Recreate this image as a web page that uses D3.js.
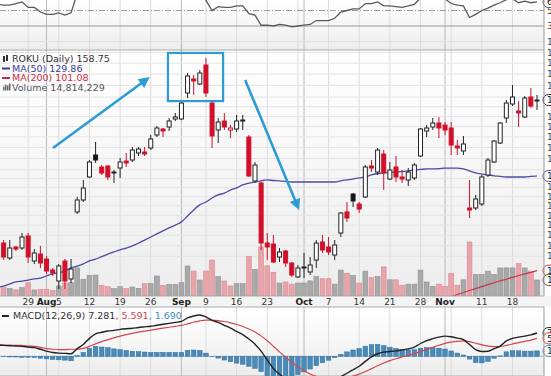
<!DOCTYPE html>
<html>
<head>
<meta charset="utf-8">
<script src="https://cdn.jsdelivr.net/npm/d3@7"></script>
<style>
  body { margin: 0; background: #fff; overflow: hidden; }
  svg { display: block; font-family: "DejaVu Sans", Verdana, sans-serif; }
</style>
</head>
<body>
<div id="chart"></div>
<script>
// trading calendar (Sep 2 = Labor Day)
const holidays = ["2019-09-02"];
const fmt = d3.timeFormat("%Y-%m-%d");
const dates = d3.timeDay.range(new Date(2019, 6, 22), new Date(2019, 10, 23))
  .filter(d => d.getDay() > 0 && d.getDay() < 6 && !holidays.includes(fmt(d)))
  .map(fmt);

const open = [106.75,108.74,104.51,107.60,107.32,110.78,103.69,105.63,104.24,101.25,
  98.35,103.69,98.87,118.05,121.85,129.50,137.26,132.97,133.32,130.87,
  132.62,135.09,135.45,137.99,138.35,139.82,144.71,147.03,147.81,150.97,
  150.97,161.72,167.83,165.62,174.16,157.49,146.64,150.17,146.64,147.03,
  150.17,143.95,128.13,127.46,108.74,108.46,104.79,106.47,103.14,99.40,
  101.79,100.72,103.96,109.03,107.60,105.35,111.66,118.05,123.81,120.57,
  122.83,133.32,131.22,137.62,128.81,132.97,129.50,128.47,129.16,136.90,
  146.25,147.81,149.38,148.59,147.42,140.56,138.72,119.30,119.30,120.57,
  130.18,134.74,141.68,151.38,157.08,154.20,151.78,160.02,158.33];
const high = [108.17,109.61,109.61,107.88,111.66,111.66,107.03,107.88,105.07,101.79,
  102.87,104.24,104.24,122.83,128.47,135.45,142.06,133.67,133.67,131.91,
  136.17,137.99,140.19,140.19,140.19,144.71,148.20,147.42,151.38,153.39,
  157.91,170.51,169.61,171.87,177.42,158.75,151.38,153.39,148.59,152.58,
  152.58,144.71,134.74,127.80,111.66,111.07,107.31,106.75,103.41,102.60,
  105.91,104.79,109.61,111.07,110.48,109.61,118.05,121.21,124.13,121.21,
  133.67,135.45,139.82,139.08,134.74,136.90,131.91,132.62,134.38,147.42,
  148.59,151.38,151.78,149.78,149.78,142.81,144.33,128.47,123.48,130.18,
  136.17,142.81,149.78,158.75,165.18,158.33,160.44,163.88,160.87];
const low = [104.51,103.96,103.96,106.47,106.75,103.14,102.87,101.79,100.19,99.66,
  96.28,96.28,97.83,117.42,121.21,129.16,134.38,130.18,128.47,127.46,
  129.16,132.97,134.74,136.90,136.90,139.08,143.95,143.95,146.25,150.17,
  150.57,159.59,160.87,165.18,160.02,139.82,141.68,146.64,143.57,145.87,
  146.64,129.50,127.46,106.75,103.96,103.14,103.41,102.06,99.40,99.13,
  99.13,99.92,101.79,105.91,105.35,103.96,110.48,114.96,119.62,117.73,
  122.51,131.22,130.18,125.12,128.47,127.80,127.46,126.45,128.47,136.54,
  143.95,146.64,143.57,144.71,137.26,137.26,137.26,116.18,118.67,119.93,
  129.50,134.38,141.31,149.38,156.25,147.81,151.38,155.43,154.61];
const close = [107.32,104.79,107.32,107.03,110.48,104.79,105.91,103.14,100.98,100.45,
  102.33,98.35,101.52,121.85,125.78,134.74,135.45,130.87,129.50,131.22,
  134.74,134.38,139.08,139.45,137.62,143.19,147.42,146.25,150.17,151.78,
  157.49,169.16,166.94,170.51,161.72,144.33,149.78,147.81,147.42,150.17,
  150.57,129.84,133.67,108.74,107.60,103.41,106.19,103.14,99.92,101.79,
  102.06,102.60,108.74,106.75,106.19,108.17,117.73,116.18,121.53,118.99,
  132.97,132.62,139.08,130.87,131.91,129.50,128.81,131.22,133.67,147.03,
  147.42,149.38,147.42,146.64,140.94,139.82,141.31,118.67,122.18,129.50,
  135.45,142.43,149.38,157.49,160.02,153.39,159.59,156.25,158.75];
// volume, millions of shares
const volume = [7,7.7,6.8,5.6,7.7,12.3,5.6,6.2,6.2,5.3,
  9.3,12,12.3,26,15.5,19.2,19.4,9.9,8.6,6.8,
  8.6,6.8,8.3,7.1,11.4,11.4,18.5,9.9,10.8,10.8,
  12.3,27.8,23.1,14.8,23.1,33.3,17.9,13.9,9.3,11.4,
  11.4,36.4,24.7,45.4,28,22,12,13,11,12,
  12,14,18,16,16,11,24,21,19,12,
  23,17,18,27,15,15,10,11,11,24,
  13,9,11,9,21,10,15,50,20,20,
  23,20,26,26,26,30,26,23,14.81];
const ma50 = [96.8,97.0,97.6,98.1,98.3,98.6,98.9,99.1,99.7,100.2,
  100.5,101.0,101.8,102.3,102.9,103.7,104.2,104.9,105.6,106.2,
  106.8,107.3,107.9,108.7,109.6,110.5,111.4,112.3,113.2,114.0,
  115.0,116.8,118.7,120.3,121.2,122.5,123.5,124.1,125.1,125.8,
  126.8,127.4,127.8,128.2,128.5,128.3,128.2,128.0,127.8,127.8,
  127.8,127.8,127.8,127.8,127.8,127.8,128.2,128.5,128.8,129.2,
  129.5,130.2,130.7,130.9,131.1,131.2,131.4,131.6,131.9,132.1,
  132.3,132.3,132.4,132.6,132.6,132.6,132.3,131.6,130.9,130.5,
  130.2,129.9,129.7,129.5,129.5,129.5,129.5,129.7,129.86];
// MA(200) only visible at the end of the window
const ma200Start = 72;
const ma200 = [93.5,94.0,94.4,94.9,95.4,95.9,96.4,96.9,97.4,97.9,98.4,98.8,99.3,99.8,100.2,100.6,101.08];
const rsi = [58,57,57,59,61,54,54,48,45,45,
  47,44,47,72,76,82,80,76,73,74,
  77,76,79,79,76,80,83,81,84,85,
  88,91,88,90,63,50,55,54,54,56,
  56,46,44,31,31,30,32,31,29,30,
  31,32,37,37,37,40,48,50,52,52,
  59,59,61,56,56,55,54,56,58,66,
  67,68,66,65,59,57,56,41,45,50,
  53,57,60,64,65,60,62,60,61];
const macd = [3.5,3.4,3.3,3.2,3.1,2.9,2.7,2.2,1.6,1.2,
  1.0,0.9,0.8,2.4,3.7,5.6,7.0,7.5,7.9,8.1,
  8.4,8.6,8.75,9.0,9.2,9.4,9.7,10.0,10.3,10.6,
  10.9,12.0,12.6,12.9,12.3,11.2,10.6,9.7,8.8,7.8,
  6.8,5.4,3.8,1.6,-1.2,-3.8,-5.6,-7.0,-8.2,-9.0,
  -9.4,-9.5,-9.2,-8.8,-8.3,-7.6,-6.4,-5.3,-4.2,-3.1,
  -1.6,-0.2,0.8,1.3,1.5,1.7,2.0,2.3,2.9,4.0,
  4.9,5.5,6.0,6.3,6.1,5.7,5.2,3.7,2.1,1.5,
  1.6,2.4,3.2,4.8,5.6,6.0,6.3,6.7,7.281];
const signal = [3.6,3.5,3.5,3.4,3.4,3.2,3.1,2.8,2.4,2.2,
  2.1,2.1,2.2,2.2,2.5,3.1,3.9,4.6,5.2,5.78,
  6.30,6.76,7.16,7.53,7.86,8.17,8.48,8.78,9.08,9.38,
  9.68,10.14,10.63,11.08,11.32,11.30,11.16,10.87,10.46,9.93,
  9.30,8.52,7.58,6.38,4.86,3.13,1.38,-0.30,-1.88,-3.30,
  -4.52,-5.52,-6.26,-6.77,-7.08,-7.18,-7.02,-6.68,-6.18,-5.56,
  -4.77,-3.86,-2.93,-2.08,-1.36,-0.75,-0.20,0.30,0.82,1.46,
  2.15,2.82,3.46,4.03,4.44,4.69,4.79,4.57,4.08,3.56,
  3.17,3.02,3.06,3.41,3.85,4.28,4.68,5.08,5.591];

const weekTicks = ["2019-07-29","2019-08-05","2019-08-12","2019-08-19","2019-08-26","2019-09-09","2019-09-16",
  "2019-09-23","2019-10-07","2019-10-14","2019-10-21","2019-10-28","2019-11-11","2019-11-18"];
const weekLabels = ["29","5","12","19","26","9","16","23","7","14","21","28","11","18"];
const weekGrid = ["2019-07-22","2019-09-30","2019-11-04"];
const monthTicks = ["2019-08-01","2019-09-03","2019-10-01","2019-11-01"];
const monthLabels = ["Aug","Sep","Oct","Nov"];
const priceTicks = [105,108,111,114,117,120,123,126,129,132,136,140,144,148,152,156,160,165,170,175,180];
const rsiLevels = [10, 30, 50, 70];

// annotations: [day index, price]
const arrowUp = [[9.05, 139.8], [24.4, 167.8]];
const arrowDown = [[40.4, 167.4], [49.0, 119.6]];
const boxCorners = [[27.8, 179.8], [36.8, 158.3]];

const W = 551, H = 376;
const plotR = 544;
const rsiTop = 0, rsiBot = 50;
const mainTop = 50, mainBot = 296;
const macdTop = 307, macdBot = 376;

const svg = d3.select("#chart").append("svg")
  .attr("width", W).attr("height", H);

const defs = svg.append("defs");
const grad = defs.append("linearGradient").attr("id", "bg").attr("x1", 0).attr("x2", 0).attr("y1", 0).attr("y2", 1);
grad.append("stop").attr("offset", "0%").attr("stop-color", "#ffffff");
grad.append("stop").attr("offset", "100%").attr("stop-color", "#ededed");
[["clipRsi", rsiTop, rsiBot], ["clipMain", mainTop, mainBot], ["clipMacd", macdTop, macdBot]].forEach(([id, t, b]) => {
  defs.append("clipPath").attr("id", id).append("rect")
    .attr("x", 0).attr("y", t).attr("width", plotR).attr("height", b - t);
});
defs.append("marker").attr("id", "head").attr("viewBox", "0 0 10 10")
  .attr("refX", 7).attr("refY", 5).attr("markerWidth", 4.6).attr("markerHeight", 4.2)
  .attr("orient", "auto").attr("markerUnits", "strokeWidth")
  .append("path").attr("d", "M0,0 L10,5 L0,10 Z").attr("fill", "#2e9bd6");

const idx = dates.map((d, i) => i);
const x = d3.scaleLinear().domain([0, dates.length - 1]).range([-2.5, 537]);
const xd = d => x(dates.indexOf(d));
const y = d3.scaleLog().domain([94.52, 181.21]).range([mainBot, mainTop]);
const yVol = d3.scaleLinear().domain([0, 100]).range([mainBot, mainBot - 108]);
const yRsi = d3.scaleLinear().domain([0, 100]).range([49.25, -28.25]);
const yMacd = d3.scaleLinear().domain([-10, 10]).range([388.3, 324.3]);

// panel backgrounds
svg.append("rect").attr("x", 0).attr("y", rsiTop).attr("width", plotR).attr("height", rsiBot - rsiTop).attr("fill", "url(#bg)");
svg.append("rect").attr("x", 0).attr("y", mainTop).attr("width", plotR).attr("height", mainBot - mainTop).attr("fill", "url(#bg)");
svg.append("rect").attr("x", 0).attr("y", mainBot).attr("width", W).attr("height", macdTop - mainBot).attr("fill", "#f4f4f4");
svg.append("rect").attr("x", 0).attr("y", macdTop).attr("width", plotR).attr("height", macdBot - macdTop).attr("fill", "url(#bg)");

// vertical grid in every panel
const gridG = svg.append("g");
[[rsiTop, rsiBot], [mainTop, mainBot], [macdTop, macdBot]].forEach(([t, b]) => {
  gridG.selectAll(null).data(weekTicks.concat(weekGrid)).join("line")
    .attr("x1", d => xd(d)).attr("x2", d => xd(d)).attr("y1", t).attr("y2", b)
    .attr("stroke", "#dcdcdc").attr("stroke-width", 1);
  gridG.selectAll(null).data(monthTicks).join("line")
    .attr("x1", d => xd(d)).attr("x2", d => xd(d)).attr("y1", t).attr("y2", b)
    .attr("stroke", "#b9b9b9").attr("stroke-width", 1);
});

// ---------- RSI panel ----------
const rsiG = svg.append("g").attr("clip-path", "url(#clipRsi)");
rsiG.selectAll(null).data(rsiLevels).join("line")
  .attr("x1", 0).attr("x2", plotR)
  .attr("y1", d => yRsi(d)).attr("y2", d => yRsi(d))
  .attr("stroke", d => d === 10 ? "#e2e2e2" : "#9a9a9a")
  .attr("stroke-dasharray", d => d === 50 ? "6,2,1,2" : null);
rsiG.append("path").datum(idx)
  .attr("d", d3.line().x(i => x(i)).y(i => yRsi(rsi[i])))
  .attr("fill", "none").attr("stroke", "#5a5a5a").attr("stroke-width", 1.3);
svg.selectAll(null).data([50, 30, 10]).join("text")
  .attr("x", 547).attr("y", d => yRsi(d)).attr("dy", "0.35em")
  .attr("font-size", 9).attr("fill", "#444").text(d => d);

// ---------- main price panel ----------
const mainG = svg.append("g").attr("clip-path", "url(#clipMain)");
mainG.selectAll(null).data(priceTicks).join("line")
  .attr("x1", 0).attr("x2", plotR)
  .attr("y1", d => y(d)).attr("y2", d => y(d))
  .attr("stroke", "#e4e4e4");

const up = i => i === 0 || close[i] >= close[i - 1];

// volume overlay
mainG.selectAll(null).data(idx).join("rect")
  .attr("x", i => x(i) - 2.4).attr("width", 4.8)
  .attr("y", i => yVol(volume[i])).attr("height", i => mainBot - yVol(volume[i]))
  .attr("fill", i => up(i) ? "#a9a9a9" : "#e9a3aa")
  .attr("stroke", i => up(i) ? "#8f8f8f" : "#d98891").attr("stroke-width", 0.6);

// moving averages
mainG.append("path").datum(idx)
  .attr("d", d3.line().x(i => x(i)).y(i => y(ma50[i])).curve(d3.curveMonotoneX))
  .attr("fill", "none").attr("stroke", "#4b4ba6").attr("stroke-width", 1.3);
mainG.append("path").datum(ma200)
  .attr("d", d3.line().x((v, k) => x(ma200Start + k)).y(v => y(v)))
  .attr("fill", "none").attr("stroke", "#c8324a").attr("stroke-width", 1.2);

// candles
const cG = mainG.append("g");
cG.selectAll(null).data(idx).join("line")
  .attr("x1", i => x(i)).attr("x2", i => x(i))
  .attr("y1", i => y(high[i])).attr("y2", i => y(low[i]))
  .attr("stroke", i => up(i) ? "#222" : "#d0102a").attr("stroke-width", 1);
cG.selectAll(null).data(idx).join("rect")
  .attr("x", i => x(i) - 2).attr("width", 4)
  .attr("y", i => y(Math.max(open[i], close[i])))
  .attr("height", i => Math.max(1, Math.abs(y(open[i]) - y(close[i]))))
  .attr("fill", i => close[i] >= open[i] ? "#fff" : (up(i) ? "#111" : "#d0102a"))
  .attr("stroke", i => up(i) ? "#222" : "#d0102a").attr("stroke-width", 1);

// annotations
const pt = p => [x(p[0]), y(p[1])];
[arrowUp, arrowDown].forEach(a => {
  const [p0, p1] = a.map(pt);
  svg.append("line").attr("x1", p0[0]).attr("y1", p0[1]).attr("x2", p1[0]).attr("y2", p1[1])
    .attr("stroke", "#2e9bd6").attr("stroke-width", 2.6).attr("marker-end", "url(#head)");
});
const [b0, b1] = boxCorners.map(pt);
svg.append("rect").attr("x", b0[0]).attr("y", b0[1]).attr("width", b1[0] - b0[0]).attr("height", b1[1] - b0[1])
  .attr("fill", "none").attr("stroke", "#2e9bd6").attr("stroke-width", 2.2);

// last-value tags on the right
const tags = [
  [y(close[close.length - 1]), "158.75", "#222"],
  [y(ma50[ma50.length - 1]), "129.86", "#4b4ba6"],
  [y(ma200[ma200.length - 1]), "101.08", "#c8324a"],
  [yVol(volume[volume.length - 1]), "14.8M", "#555"],
  [yRsi(rsi[rsi.length - 1]), "61.2", "#555"],
  [yMacd(macd[macd.length - 1]), "7.281", "#222"],
  [yMacd(signal[signal.length - 1]), "5.591", "#c8324a"],
  [yMacd(macd[macd.length - 1] - signal[signal.length - 1]), "1.690", "#3f86b5"]
];

// price axis (cut by the window edge), skipping labels hidden by a tag
svg.selectAll(null).data(priceTicks.filter(p => tags.every(t => Math.abs(t[0] - y(p)) > 8))).join("text")
  .attr("x", 547).attr("y", d => y(d)).attr("dy", "0.35em")
  .attr("font-size", 9).attr("fill", "#444").text(d => d);

tags.forEach(([ty, t, c]) => {
  svg.append("rect").attr("x", 543).attr("y", ty - 5.5).attr("width", 34).attr("height", 11).attr("rx", 5.5)
    .attr("fill", "#fff").attr("stroke", c).attr("stroke-width", 1);
  svg.append("text").attr("x", 547).attr("y", ty).attr("dy", "0.35em").attr("font-size", 9).attr("fill", "#222").text(t);
});

// legend
const leg = svg.append("g").attr("font-size", 9.5);
leg.append("text").attr("x", 12).attr("y", 62).attr("fill", "#333").text("ROKU (Daily) 158.75");
leg.append("text").attr("x", 12).attr("y", 71.5).attr("fill", "#3b3b9a").text("MA(50) 129.86");
leg.append("text").attr("x", 12).attr("y", 81).attr("fill", "#cc2a44").text("MA(200) 101.08");
leg.append("text").attr("x", 12).attr("y", 90.5).attr("fill", "#555").text("Volume 14,814,229");
leg.append("rect").attr("x", 3).attr("y", 56).attr("width", 2).attr("height", 6).attr("fill", "#333");
leg.append("rect").attr("x", 6).attr("y", 55).attr("width", 2).attr("height", 6).attr("fill", "#333");
leg.append("line").attr("x1", 2).attr("x2", 10).attr("y1", 68.5).attr("y2", 68.5).attr("stroke", "#3b3b9a").attr("stroke-width", 2);
leg.append("line").attr("x1", 2).attr("x2", 10).attr("y1", 78).attr("y2", 78).attr("stroke", "#cc2a44").attr("stroke-width", 2);
[3, 5, 7, 9].forEach((bx, k) => leg.append("rect").attr("x", bx).attr("y", 90.5 - [4, 6, 5, 7][k])
  .attr("width", 1.5).attr("height", [4, 6, 5, 7][k]).attr("fill", "#666"));

// panel frames
[[rsiTop, rsiBot], [mainTop, mainBot], [macdTop, macdBot]].forEach(([t, b]) => {
  svg.append("line").attr("x1", plotR).attr("x2", plotR).attr("y1", t).attr("y2", b).attr("stroke", "#999");
  svg.append("line").attr("x1", 0).attr("x2", plotR).attr("y1", b).attr("y2", b).attr("stroke", "#aaa");
});
svg.append("line").attr("x1", 0).attr("x2", plotR).attr("y1", macdTop).attr("y2", macdTop).attr("stroke", "#aaa");

// date axis
svg.selectAll(null).data(weekTicks).join("text")
  .attr("x", d => xd(d)).attr("y", 305).attr("text-anchor", "middle")
  .attr("font-size", 9).attr("fill", "#333").text((d, i) => weekLabels[i]);
svg.selectAll(null).data(monthTicks).join("text")
  .attr("x", d => xd(d)).attr("y", 305).attr("text-anchor", "middle")
  .attr("font-size", 9).attr("font-weight", "bold").attr("fill", "#222").text((d, i) => monthLabels[i]);

// ---------- MACD panel ----------
const macdG = svg.append("g").attr("clip-path", "url(#clipMacd)");
macdG.append("line").attr("x1", 0).attr("x2", plotR).attr("y1", yMacd(0)).attr("y2", yMacd(0))
  .attr("stroke", "#9fb8cc").attr("stroke-width", 1);
macdG.selectAll(null).data(idx).join("rect")
  .attr("x", i => x(i) - 2.3).attr("width", 4.6)
  .attr("y", i => yMacd(Math.max(0, macd[i] - signal[i])))
  .attr("height", i => Math.abs(yMacd(macd[i] - signal[i]) - yMacd(0)))
  .attr("fill", "#4a8ab8").attr("stroke", "#2f6f9c").attr("stroke-width", 0.5);
macdG.append("path").datum(idx)
  .attr("d", d3.line().x(i => x(i)).y(i => yMacd(signal[i])).curve(d3.curveMonotoneX))
  .attr("fill", "none").attr("stroke", "#d0474f").attr("stroke-width", 1.2);
macdG.append("path").datum(idx)
  .attr("d", d3.line().x(i => x(i)).y(i => yMacd(macd[i])).curve(d3.curveMonotoneX))
  .attr("fill", "none").attr("stroke", "#222").attr("stroke-width", 1.4);

const ml = svg.append("text").attr("x", 13).attr("y", 319).attr("font-size", 9.5);
ml.append("tspan").attr("fill", "#333").text("MACD(12,26,9) 7.281");
ml.append("tspan").attr("fill", "#d0474f").text(", 5.591");
ml.append("tspan").attr("fill", "#3f8fc0").text(", 1.690");
svg.append("line").attr("x1", 2).attr("x2", 9).attr("y1", 316).attr("y2", 316).attr("stroke", "#222").attr("stroke-width", 2);
</script>
</body>
</html>
